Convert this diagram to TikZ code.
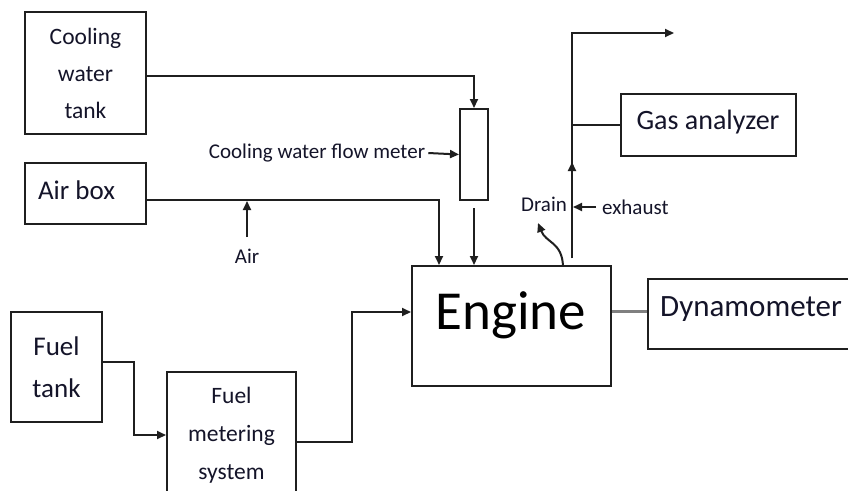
\documentclass[tikz,border=0pt]{standalone}
\usepackage{fontspec}
\setmainfont{Carlito}
\usetikzlibrary{arrows.meta,calc}
\definecolor{txt}{rgb}{0.08,0.08,0.16}
\definecolor{ink}{rgb}{0.12,0.12,0.12}
\begin{document}
\begin{tikzpicture}[x=1pt,y=-1pt,
  box/.style={draw=ink, line width=2pt, inner sep=0pt, text=txt},
  ln/.style={draw=ink, line width=2pt},
  arr/.style={ln, -{Triangle[length=9pt,width=8pt]}},
  lbl/.style={font=\fontsize{21}{24}\selectfont, text=txt, inner sep=0pt},
  big/.style={inner sep=0pt, text=txt}]
\begin{scope}
\clip (0,0) rectangle (848,490);
\fill[white] (0,0) rectangle (848,490);
% boxes
\node[box, minimum width=121pt, minimum height=122pt, align=center, font=\fontsize{23.5}{37}\selectfont] (cwt) at (85.5,73) {Cooling\\water\\tank};
\node[box, minimum width=121pt, minimum height=61pt] (air) at (85.5,193.5) {};
\node[big, font=\fontsize{27}{32}\selectfont] (airt) at (76.5,190) {Air box};
\node[box, minimum width=28pt, minimum height=91pt] (fm) at (474,154.5) {};
\node[box, minimum width=199pt, minimum height=120pt] (eng) at (511.5,326) {};
\node[inner sep=0pt, font=\fontsize{55}{60}\selectfont] (engt) at (511,315) {Engine};
\node[box, minimum width=175pt, minimum height=62pt] (gas) at (708.5,125) {};
\node[big, font=\fontsize{28}{32}\selectfont] (gast) at (708,122) {Gas analyzer};
\node[box, minimum width=215pt, minimum height=70pt, anchor=north west] (dyn) at (647,278) {};
\node[big, anchor=west, font=\fontsize{31}{34}\selectfont] (dynt) at (660,309) {Dynamometer};
\node[box, minimum width=91pt, minimum height=110pt, align=center, font=\fontsize{27}{42}\selectfont] (ft) at (56.5,367) {Fuel\\tank};
\node[box, minimum width=129pt, minimum height=126pt, align=center, font=\fontsize{23.5}{38}\selectfont] (fms) at (231.5,435) {Fuel\\metering\\system};
% small labels
\node[lbl] (cwfm) at (317,153) {Cooling water flow meter};
\node[lbl] (airl) at (247,256) {Air};
\node[lbl] (drain) at (544,204) {Drain};
\node[lbl, anchor=west] (exh) at (602,207) {exhaust};
% coordinates
\coordinate (airs) at (247,237);
\coordinate (aire) at (247,201);
\coordinate (ex0) at (572,258);
\coordinate (exm) at (572,162);
\coordinate (ex1) at (572,33);
\coordinate (exend) at (674,33);
\coordinate (dr0) at (563,266);
\coordinate (dr1) at (538,223);
% connectors
\draw[arr] ([yshift=-3pt]cwt.east) -| (fm.north);
\draw[arr] ([yshift=-6.5pt]air.east) -| ([xshift=-72.5pt]eng.north);
\draw[arr] (airs) -- (aire);
\draw[arr] ([xshift=3pt]cwfm.east) -- (fm.west);
\draw[arr] ([yshift=-7pt]fm.south) -- (fm.south |- eng.north);
\draw[ln, -{Triangle[length=9pt,width=8pt]}] (ex0) -- (ex1) -- (exend);
\draw[arr] (ex0) -- (exm);
\draw[ln] (ex0 |- gas.west) -- (gas.west);
\draw[arr] ([xshift=-6pt]exh.west) -- ($(ex0 |- exh.west)+(1,0)$);
\draw[arr] (dr0) .. controls (562,242) and (546,243) .. (dr1);
\draw[arr] ([yshift=5pt]ft.east) -| ($(fms.west)+(-32,0)$) -- (fms.west);
\draw[arr] ([yshift=-7pt]fms.east) -| ($(eng.west)+(-59,-14)$) -- ([yshift=14pt]eng.west);
\coordinate (e1) at ([yshift=15pt]eng.east);
\draw[draw=gray, line width=3pt] (e1) -- (e1 -| dyn.west);
\end{scope}
\pgfresetboundingbox
\useasboundingbox (0,0) rectangle (848,490);
\end{tikzpicture}
\end{document}
